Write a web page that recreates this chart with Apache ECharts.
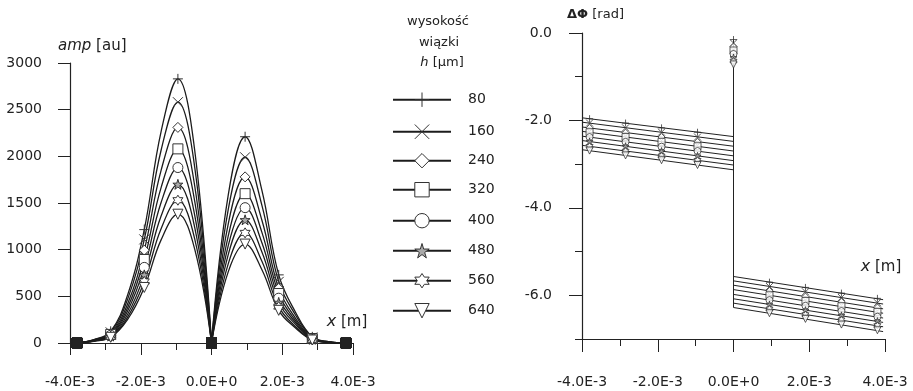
<!DOCTYPE html>
<html lang="pl">
<head>
<meta charset="utf-8">
<title>amp / faza</title>
<script src="https://cdn.jsdelivr.net/npm/echarts@6/dist/echarts.min.js"></script>
<style>
  html, body { margin: 0; padding: 0; background: #fff; }
  #chart { width: 913px; height: 391px; }
</style>
</head>
<body>
<div id="chart"></div>
<script>
// NOTE - dane: wysokość wiązki h [µm]
const heights = ['80', '160', '240', '320', '400', '480', '560', '640']

// NOTE - amplituda, lewy i prawy listek (x w m), znaczniki co drugi punkt
const ampXLeft = [-3.8e-3, -3.325e-3, -2.85e-3, -2.375e-3, -1.9e-3, -1.425e-3, -0.95e-3, -0.475e-3, 0]
const ampXRight = [0, 0.475e-3, 0.95e-3, 1.425e-3, 1.9e-3, 2.375e-3, 2.85e-3, 3.325e-3, 3.8e-3]
const ampLeft = [
  [0, 37, 125, 510, 1215, 2265, 2830, 2065, 0],
  [0, 34, 114, 465, 1110, 2065, 2580, 1885, 0],
  [0, 30, 102, 415, 995, 1850, 2310, 1685, 0],
  [0, 27, 92, 375, 895, 1665, 2080, 1520, 0],
  [0, 24, 83, 340, 810, 1505, 1880, 1370, 0],
  [0, 22, 75, 305, 730, 1360, 1700, 1240, 0],
  [0, 20, 67, 275, 660, 1225, 1530, 1115, 0],
  [0, 18, 61, 250, 595, 1105, 1380, 1005, 0],
]
const ampRight = [
  [0, 1590, 2210, 1635, 730, 330, 66, 13, 0],
  [0, 1435, 1990, 1475, 655, 300, 60, 12, 0],
  [0, 1280, 1780, 1315, 585, 265, 53, 11, 0],
  [0, 1150, 1600, 1185, 530, 240, 48, 10, 0],
  [0, 1045, 1450, 1075, 480, 220, 44, 9, 0],
  [0, 950, 1320, 975, 435, 200, 40, 8, 0],
  [0, 850, 1180, 875, 390, 175, 35, 7, 0],
  [0, 765, 1060, 785, 350, 160, 32, 6, 0],
]

// NOTE - faza ΔΦ [rad]
const phaseXLeft = [-3.8e-3, -2.85e-3, -1.9e-3, -0.95e-3]
const phaseXRight = [0.95e-3, 1.9e-3, 2.85e-3, 3.8e-3]
const phaseLeft = [
  [-1.96, -2.06, -2.17, -2.27],
  [-2.06, -2.17, -2.27, -2.38],
  [-2.17, -2.28, -2.38, -2.49],
  [-2.27, -2.38, -2.49, -2.59],
  [-2.38, -2.49, -2.60, -2.70],
  [-2.48, -2.59, -2.70, -2.81],
  [-2.59, -2.70, -2.81, -2.91],
  [-2.69, -2.80, -2.91, -3.02],
]
const phaseZero = [-0.15, -0.23, -0.31, -0.40, -0.48, -0.56, -0.64, -0.72]
const phaseRight = [
  [-5.70, -5.82, -5.95, -6.07],
  [-5.80, -5.92, -6.05, -6.17],
  [-5.90, -6.03, -6.15, -6.28],
  [-6.00, -6.13, -6.25, -6.38],
  [-6.11, -6.24, -6.36, -6.49],
  [-6.21, -6.34, -6.46, -6.59],
  [-6.31, -6.44, -6.56, -6.69],
  [-6.41, -6.54, -6.67, -6.80],
]
// proste dopasowania (początek, koniec)
const fitXLeft = [-4.0e-3, 0]
const fitXRight = [0, 3.95e-3]
const fitLeft = [
  [-1.94, -2.37], [-2.04, -2.48], [-2.15, -2.59], [-2.25, -2.70],
  [-2.36, -2.81], [-2.46, -2.92], [-2.57, -3.02], [-2.67, -3.13],
]
const fitRight = [
  [-5.57, -6.10], [-5.67, -6.20], [-5.77, -6.31], [-5.87, -6.41],
  [-5.98, -6.52], [-6.08, -6.62], [-6.18, -6.72], [-6.28, -6.83],
]

// NOTE - opisy osi
const xTickValues = [-4e-3, -2e-3, 0, 2e-3, 4e-3]
const xTickLabels = ['-4.0E-3', '-2.0E-3', '0.0E+0', '2.0E-3', '4.0E-3']

// środki wierszy legendy (px)
const legendRowY = [99, 131, 162, 191, 222, 252, 282, 312]

const symbols = [
  'path://M5,0V10M0,5H10',
  'path://M0,0L10,10M10,0L0,10',
  'diamond',
  'rect',
  'circle',
  'path://M50,0L61,35H98L68,57L79,91L50,70L21,91L32,57L2,35H39Z',
  'path://M50,0L64,25H93L78,50L93,75H64L50,100L36,75H7L22,50L7,25H36Z',
  'path://M0,0H10L5,9Z',
]

const font = 'DejaVu Sans'
const ink = '#222'

const itemStyleOf = i => ({
  color: i < 2 ? 'none' : (i === 5 ? '#aaa' : '#fff'),
  borderColor: '#333',
  borderWidth: 1,
})

const xLabel = v => {
  const k = xTickValues.findIndex(t => Math.abs(t - v) < 1e-9)
  return k < 0 ? '' : xTickLabels[k]
}

// NOTE - punkt amplitudy: zera (wszystkie znaczniki na sobie) jako pełny kwadrat
const ampPoint = (x, v, k) => {
  if (k % 2 === 1) return { value: [x, v], symbol: 'none' }
  if (v === 0) return { value: [x, v], symbol: 'rect', itemStyle: { color: '#222', borderColor: '#222' } }
  return [x, v]
}

// NOTE - serie amplitudy (lewy i prawy listek osobno, żeby w zerze był ostry dołek)
const ampSeries = (xs, rows) => rows.map((row, i) => ({
  name: heights[i],
  type: 'line',
  xAxisIndex: 0,
  yAxisIndex: 0,
  smooth: 0.4,
  symbol: symbols[i],
  symbolSize: 10,
  showAllSymbol: true,
  data: row.map((v, k) => ampPoint(xs[k], v, k)),
  lineStyle: { color: '#1c1c1c', width: 1.3 },
  itemStyle: itemStyleOf(i),
  emphasis: { disabled: true },
  z: 3,
}))

// NOTE - serie fazy: proste + znaczniki
const fitSeries = fitLeft.map((f, i) => ({
  name: heights[i],
  type: 'line',
  xAxisIndex: 2,
  yAxisIndex: 1,
  symbol: 'none',
  data: [
    [fitXLeft[0], f[0]],
    [fitXLeft[1], f[1]],
    [0, phaseZero[i]],
    [fitXRight[0], fitRight[i][0]],
    [fitXRight[1], fitRight[i][1]],
  ],
  lineStyle: { color: '#222', width: 1 },
  emphasis: { disabled: true },
  z: 2,
}))

const phaseSeries = heights.map((h, i) => ({
  name: h,
  type: 'scatter',
  xAxisIndex: 2,
  yAxisIndex: 1,
  symbol: symbols[i],
  symbolSize: 7,
  data: [
    ...phaseXLeft.map((x, k) => [x, phaseLeft[i][k]]),
    [0, phaseZero[i]],
    ...phaseXRight.map((x, k) => [x, phaseRight[i][k]]),
  ],
  itemStyle: itemStyleOf(i),
  emphasis: { disabled: true },
  z: 4,
}))

const labelStyle = { fontFamily: font, fontSize: 14, color: ink }
const lineAxis = { onZero: false, lineStyle: { color: ink, width: 1.2 } }
const noLine = { show: false, onZero: false }

// NOTE - legenda: jeden wpis na wiersz, żeby rozstaw był równy
const legends = heights.map((h, i) => ({
  orient: 'vertical',
  left: 392,
  top: legendRowY[i] - 9,
  padding: 0,
  itemWidth: 58,
  itemHeight: 18,
  selectedMode: false,
  data: [h],
  itemStyle: { borderWidth: 1 },
  textStyle: { ...labelStyle, padding: [0, 0, 0, 12] },
}))

const myChart = echarts.init(document.querySelector('#chart'))
const option = {
  animation: false,
  backgroundColor: '#fff',
  grid: [
    { left: 70, top: 63, width: 283, height: 280 },
    { left: 582, top: 33, width: 303, height: 306 },
    { left: 582, top: 33, width: 303, height: 306 * 6 / 7 },
  ],
  xAxis: [
    {
      gridIndex: 0, type: 'value', position: 'bottom', min: -4e-3, max: 4e-3, interval: 2e-3,
      axisLine: lineAxis, axisTick: { length: 12, lineStyle: { color: ink } },
      axisLabel: { ...labelStyle, margin: 32, formatter: xLabel }, splitLine: { show: false },
    },
    {
      gridIndex: 0, type: 'value', position: 'bottom', offset: 0, min: -4e-3, max: 4e-3, interval: 1e-3,
      axisLine: noLine, axisTick: { length: 7, lineStyle: { color: ink } },
      axisLabel: { show: false }, splitLine: { show: false },
    },
    {
      gridIndex: 1, type: 'value', position: 'bottom', min: -4e-3, max: 4e-3, interval: 2e-3,
      axisLine: lineAxis, axisTick: { length: 13, lineStyle: { color: ink } },
      axisLabel: { ...labelStyle, margin: 36, formatter: xLabel }, splitLine: { show: false },
    },
    {
      gridIndex: 1, type: 'value', position: 'bottom', offset: 0, min: -4e-3, max: 4e-3, interval: 1e-3,
      axisLine: noLine, axisTick: { length: 7, lineStyle: { color: ink } },
      axisLabel: { show: false }, splitLine: { show: false },
    },
    { gridIndex: 2, type: 'value', min: -4e-3, max: 4e-3, show: false, axisLine: noLine },
  ],
  yAxis: [
    {
      gridIndex: 0, type: 'value', position: 'left', min: 0, max: 3000, interval: 500,
      axisLine: { show: true, ...lineAxis }, axisTick: { show: true, length: 12, lineStyle: { color: ink } },
      axisLabel: { ...labelStyle, margin: 28, formatter: v => String(v) }, splitLine: { show: false },
    },
    {
      gridIndex: 1, type: 'value', position: 'left', min: -7, max: 0, interval: 1,
      axisLine: { show: true, ...lineAxis }, axisTick: { show: true, length: 7, lineStyle: { color: ink } },
      axisLabel: { show: false }, splitLine: { show: false },
    },
    {
      gridIndex: 2, type: 'value', position: 'left', min: -6, max: 0, interval: 2,
      axisLine: noLine, axisTick: { show: true, length: 13, lineStyle: { color: ink } },
      axisLabel: { ...labelStyle, margin: 30, formatter: v => v.toFixed(1) }, splitLine: { show: false },
    },
  ],
  legend: legends,
  graphic: [
    {
      type: 'text', x: 58, y: 46, silent: true,
      style: {
        text: '{i|amp} [au]', fontFamily: font, fontSize: 15, fill: ink, verticalAlign: 'middle',
        rich: { i: { fontStyle: 'italic', fontFamily: font, fontSize: 15 } },
      },
    },
    {
      type: 'text', x: 347, y: 322, silent: true,
      style: {
        text: '{i|x} [m]', fontFamily: font, fontSize: 15, fill: ink, align: 'center', verticalAlign: 'middle',
        rich: { i: { fontStyle: 'italic', fontFamily: font, fontSize: 16 } },
      },
    },
    {
      type: 'text', x: 567, y: 15, silent: true,
      style: {
        text: '{b|ΔΦ} [rad]', fontFamily: font, fontSize: 13, fill: ink, verticalAlign: 'middle',
        rich: { b: { fontWeight: 'bold', fontFamily: font, fontSize: 13 } },
      },
    },
    {
      type: 'text', x: 881, y: 267, silent: true,
      style: {
        text: '{i|x} [m]', fontFamily: font, fontSize: 15, fill: ink, align: 'center', verticalAlign: 'middle',
        rich: { i: { fontStyle: 'italic', fontFamily: font, fontSize: 16 } },
      },
    },
    {
      type: 'text', x: 438, y: 22, silent: true,
      style: { text: 'wysokość', fontFamily: font, fontSize: 13, fill: ink, align: 'center', verticalAlign: 'middle' },
    },
    {
      type: 'text', x: 439, y: 43, silent: true,
      style: { text: 'wiązki', fontFamily: font, fontSize: 13, fill: ink, align: 'center', verticalAlign: 'middle' },
    },
    {
      type: 'text', x: 442, y: 63, silent: true,
      style: {
        text: '{i|h} [µm]', fontFamily: font, fontSize: 13, fill: ink, align: 'center', verticalAlign: 'middle',
        rich: { i: { fontStyle: 'italic', fontFamily: font, fontSize: 13 } },
      },
    },
  ],
  series: [
    ...ampSeries(ampXLeft, ampLeft),
    ...ampSeries(ampXRight, ampRight),
    ...fitSeries,
    ...phaseSeries,
  ],
}
myChart.setOption(option)
</script>
</body>
</html>
